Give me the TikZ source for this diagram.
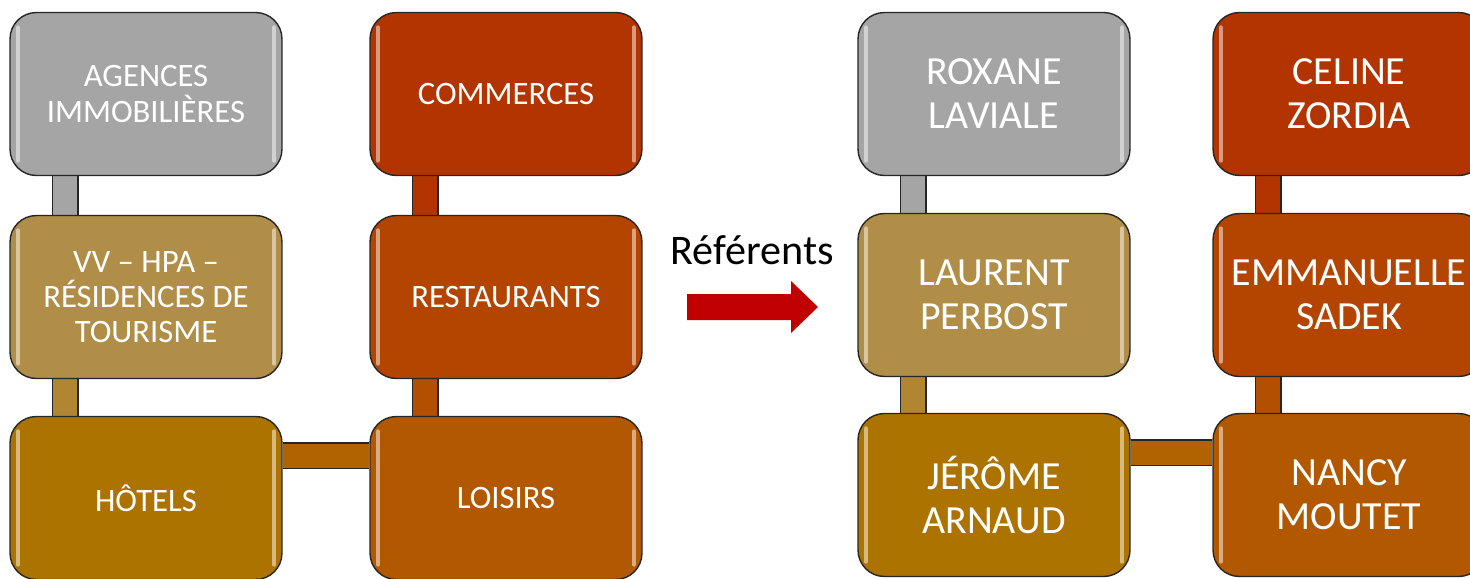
\documentclass[tikz,border=0pt]{standalone}
\usepackage{fontspec}
\setmainfont{Carlito}
\usetikzlibrary{backgrounds}

\definecolor{boxgray}{HTML}{A5A5A5}
\definecolor{boxtan}{HTML}{B18E48}
\definecolor{boxgold}{HTML}{AD7300}
\definecolor{boxred}{HTML}{B23400}
\definecolor{boxrust}{HTML}{B34500}
\definecolor{boxorange}{HTML}{B25800}
\definecolor{arrowred}{HTML}{C00000}

\tikzset{
  tile/.style={rectangle, rounded corners=15, draw=black!85, line width=0.8pt,
    minimum width=5.44cm, minimum height=3.26cm, text=white, align=center,
    path picture={
      \draw[white, opacity=0.5, line width=2.5pt, line cap=round]
        ([xshift=0.16cm, yshift=-0.3cm]path picture bounding box.north west) --
        ([xshift=0.16cm, yshift=0.3cm]path picture bounding box.south west);
      \draw[white, opacity=0.5, line width=2.5pt, line cap=round]
        ([xshift=-0.16cm, yshift=-0.3cm]path picture bounding box.north east) --
        ([xshift=-0.16cm, yshift=0.3cm]path picture bounding box.south east);
    }},
  sector/.style={tile, font=\fontsize{18.6}{20}\selectfont},
  person/.style={tile, font=\fontsize{22.7}{25}\selectfont},
  bar/.style={draw=black!85, line width=0.8pt, double distance=0.48cm, double=#1}
}

\begin{document}
\begin{tikzpicture}[x=0.02cm, y=-0.02cm]
	\useasboundingbox (0,0) rectangle (1470,578);

	% secteurs
	\node[sector, fill=boxgray] (agences) at (146,94) {AGENCES\\IMMOBILIÈRES};
	\node[sector, fill=boxred] (commerces) at (506,94) {COMMERCES};
	\node[sector, fill=boxtan] (vv) at (146,297) {VV – HPA –\\RÉSIDENCES DE\\TOURISME};
	\node[sector, fill=boxrust] (restaurants) at (506,297) {RESTAURANTS};
	\node[sector, fill=boxgold] (hotels) at (146,498) {HÔTELS};
	\node[sector, fill=boxorange] (loisirs) at (506,498) {LOISIRS};

	% référents
	\node[person, fill=boxgray] (roxane) at (994,94) {ROXANE\\LAVIALE};
	\node[person, fill=boxred] (celine) at (1349,94) {CELINE\\ZORDIA};
	\node[person, fill=boxtan] (laurent) at (994,295) {LAURENT\\PERBOST};
	\node[person, fill=boxrust] (emmanuelle) at (1349,295) {EMMANUELLE\\SADEK};
	\node[person, fill=boxgold] (jerome) at (994,495) {JÉRÔME\\ARNAUD};
	\node[person, fill=boxorange] (nancy) at (1349,495) {NANCY\\MOUTET};

	\begin{scope}[on background layer]
		\draw[bar=boxgray] ([xshift=1.12cm]agences.south west) -- ([xshift=1.12cm]vv.north west);
		\draw[bar=boxtan!70!boxgold] ([xshift=1.12cm]vv.south west) -- ([xshift=1.12cm]hotels.north west);
		\draw[bar=boxred] ([xshift=1.12cm]commerces.south west) -- ([xshift=1.12cm]restaurants.north west);
		\draw[bar=boxrust!50!boxorange] ([xshift=1.12cm]restaurants.south west) -- ([xshift=1.12cm]loisirs.north west);
		\draw[bar=boxgold!40!boxorange] ([yshift=-0.8cm]hotels.north east) -- ([yshift=-0.8cm]loisirs.north west);

		\draw[bar=boxgray] ([xshift=1.12cm]roxane.south west) -- ([xshift=1.12cm]laurent.north west);
		\draw[bar=boxtan!70!boxgold] ([xshift=1.12cm]laurent.south west) -- ([xshift=1.12cm]jerome.north west);
		\draw[bar=boxred] ([xshift=1.12cm]celine.south west) -- ([xshift=1.12cm]emmanuelle.north west);
		\draw[bar=boxrust!50!boxorange] ([xshift=1.12cm]emmanuelle.south west) -- ([xshift=1.12cm]nancy.north west);
		\draw[bar=boxgold!40!boxorange] ([yshift=-0.8cm]jerome.north east) -- ([yshift=-0.8cm]nancy.north west);
	\end{scope}

	% flèche
	\node[font=\fontsize{24}{28}\selectfont] (titre) at (752,250) {Référents};
	\fill[arrowred] (687,294) -- (791,294) -- (791,281) -- (818,307) -- (791,333)
		-- (791,320) -- (687,320) -- cycle;
\end{tikzpicture}
\end{document}
